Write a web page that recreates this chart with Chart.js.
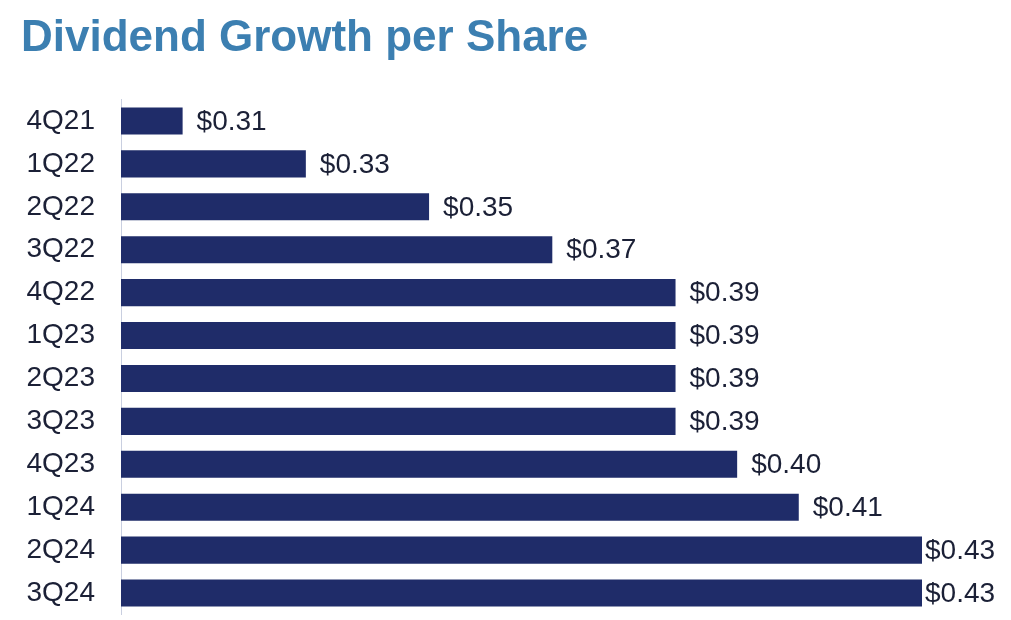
<!DOCTYPE html>
<html><head><meta charset="utf-8">
<script src="https://cdn.jsdelivr.net/npm/chart.js@4/dist/chart.umd.min.js"></script>
<style>html,body{margin:0;padding:0;background:#fff;}#wrap{width:1011px;height:620px;position:relative;}</style>
</head><body>
<div id="wrap"><canvas id="c" width="1011" height="620"></canvas></div>
<script>
const titleText = "Dividend Growth per Share";
const categories = ["4Q21","1Q22","2Q22","3Q22","4Q22","1Q23","2Q23","3Q23","4Q23","1Q24","2Q24","3Q24"];
const dividends = [0.31,0.33,0.35,0.37,0.39,0.39,0.39,0.39,0.40,0.41,0.43,0.43];
const axisMin = 0.30, axisMax = 0.43;

const FONT = "'Liberation Sans', Arial, sans-serif";
const TEXT_COLOR = "#1b2036";

const titlePlugin = {
  id: 'customTitle',
  afterDraw(chart) {
    const ctx = chart.ctx;
    ctx.save();
    ctx.font = "bold 44px " + FONT;
    ctx.fillStyle = "#3c7fb1";
    ctx.textBaseline = "alphabetic";
    ctx.textAlign = "left";
    ctx.fillText(titleText, 21, 51);
    ctx.restore();
  }
};

const labelPlugin = {
  id: 'valueLabels',
  afterDatasetsDraw(chart) {
    const ctx = chart.ctx;
    const meta = chart.getDatasetMeta(0);
    ctx.save();
    ctx.font = "28px " + FONT;
    ctx.fillStyle = TEXT_COLOR;
    ctx.textBaseline = "middle";
    ctx.textAlign = "left";
    meta.data.forEach((bar, i) => {
      const txt = "$" + dividends[i].toFixed(2);
      const w = ctx.measureText(txt).width;
      let x = bar.x + 14;
      if (x + w > chart.width - 10) x = bar.x + 3;
      ctx.fillText(txt, x, bar.y + 1);
    });
    ctx.restore();
  }
};

new Chart(document.getElementById('c'), {
  type: 'bar',
  data: {
    labels: categories,
    datasets: [{
      data: dividends,
      backgroundColor: "#1f2c69",
      borderWidth: 0,
      barPercentage: 0.9,
      categoryPercentage: 0.7
    }]
  },
  options: {
    indexAxis: 'y',
    responsive: false,
    animation: false,
    layout: { autoPadding: false, padding: { top: 99.5, bottom: 5.5, left: 0, right: 89 } },
    plugins: { legend: { display: false }, tooltip: { enabled: false }, title: { display: false } },
    scales: {
      x: { display: false, min: axisMin, max: axisMax },
      y: {
        grid: { display: false, drawTicks: false },
        border: { display: true, color: "#c9cfe0", width: 1 },
        ticks: { color: TEXT_COLOR, font: { family: FONT, size: 28 }, padding: 26 },
        afterFit(scale) { scale.width = 121; scale.paddingTop = 0; scale.paddingBottom = 0; }
      }
    }
  },
  plugins: [titlePlugin, labelPlugin]
});
</script>
</body></html>
